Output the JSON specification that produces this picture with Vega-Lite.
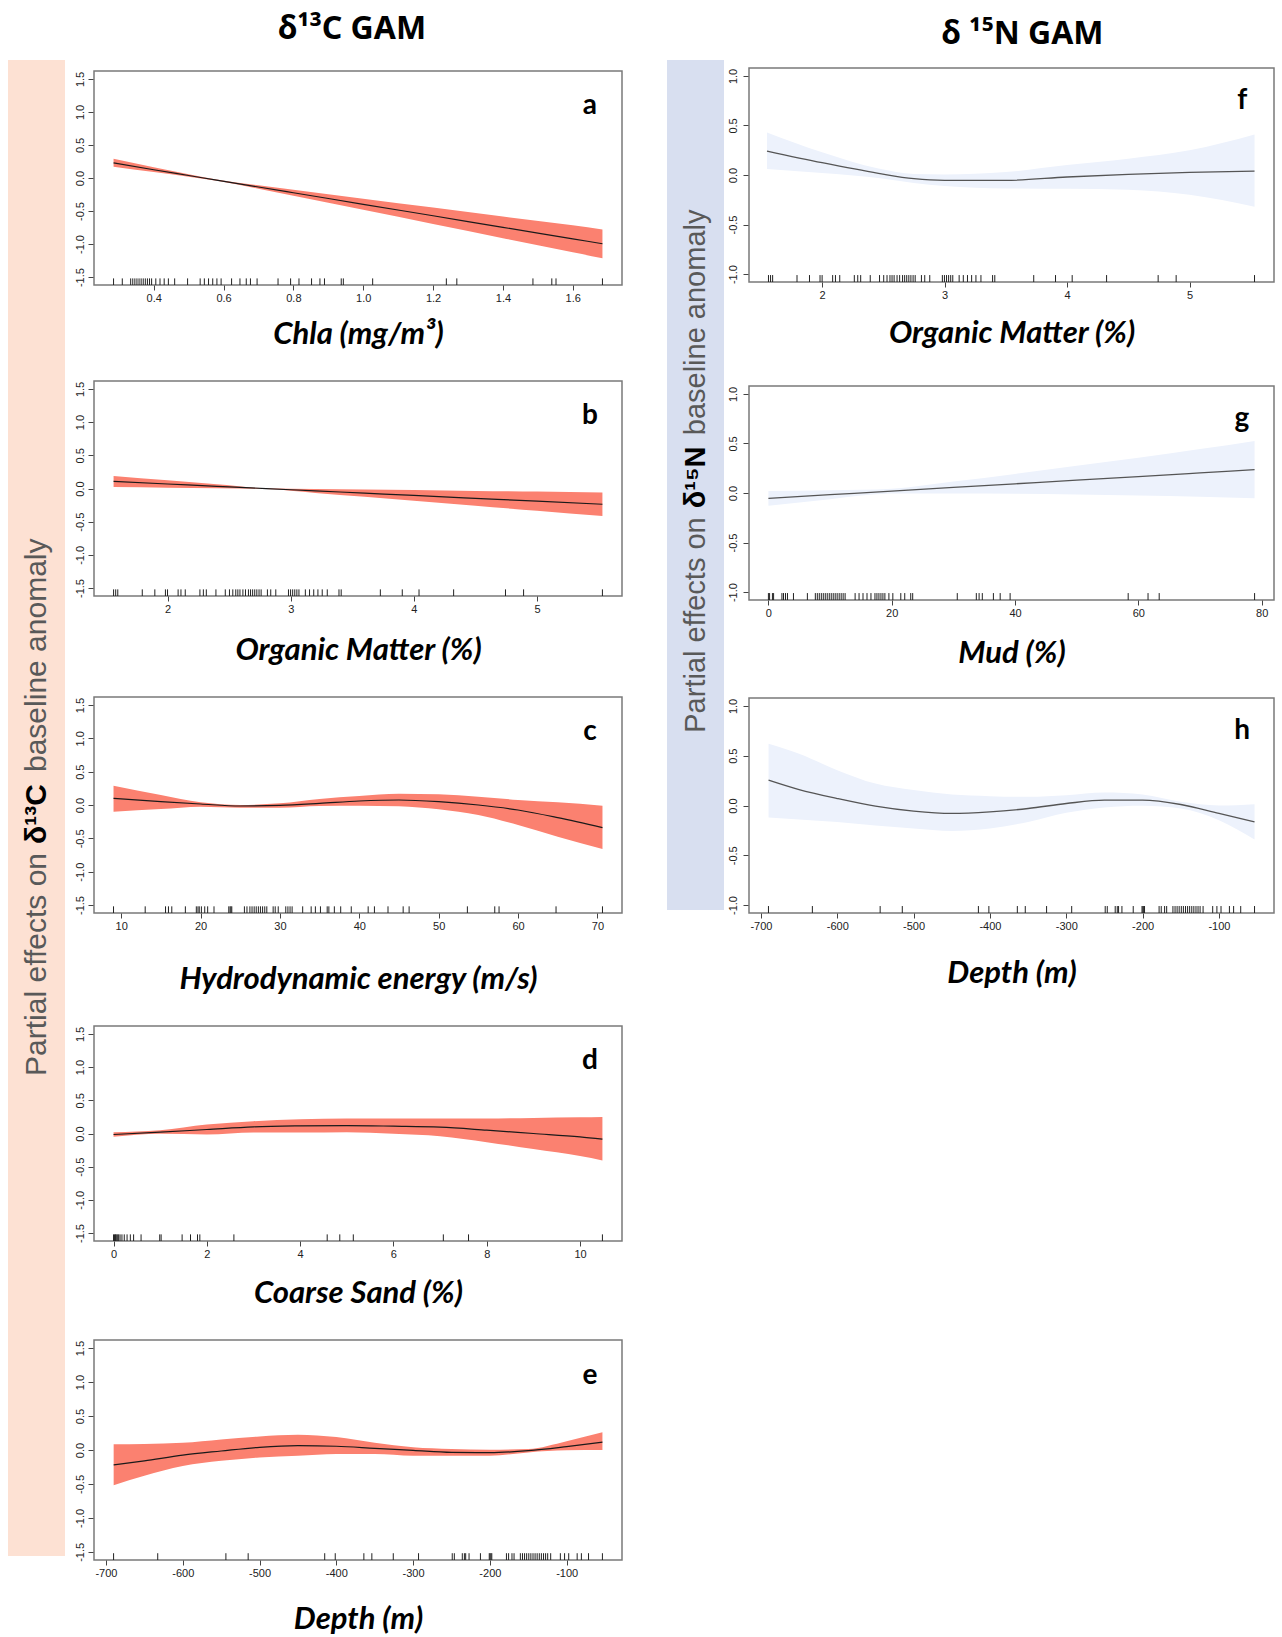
{
"$schema": "https://vega.github.io/schema/vega-lite/v6.json",
"padding": {"left": 8, "top": 12, "right": 0, "bottom": 0},
"datasets": {
"a_fit": [{"x":0.285,"fit":0.23,"lo":0.17,"hi":0.29},{"x":0.4,"fit":0.125,"lo":0.089,"hi":0.161},{"x":0.5,"fit":0.038,"lo":0.02,"hi":0.056},{"x":0.58,"fit":-0.032,"lo":-0.042,"hi":-0.022},{"x":0.7,"fit":-0.136,"lo":-0.162,"hi":-0.11},{"x":0.8,"fit":-0.223,"lo":-0.267,"hi":-0.179},{"x":1.0,"fit":-0.398,"lo":-0.482,"hi":-0.314},{"x":1.2,"fit":-0.572,"lo":-0.696,"hi":-0.448},{"x":1.4,"fit":-0.747,"lo":-0.911,"hi":-0.583},{"x":1.6,"fit":-0.921,"lo":-1.125,"hi":-0.717},{"x":1.685,"fit":-0.995,"lo":-1.215,"hi":-0.78}],
"a_rug": [{"x":0.285},{"x":0.31},{"x":0.334},{"x":0.34},{"x":0.346},{"x":0.352},{"x":0.358},{"x":0.364},{"x":0.37},{"x":0.376},{"x":0.382},{"x":0.388},{"x":0.394},{"x":0.406},{"x":0.418},{"x":0.43},{"x":0.442},{"x":0.46},{"x":0.497},{"x":0.533},{"x":0.545},{"x":0.557},{"x":0.569},{"x":0.581},{"x":0.593},{"x":0.623},{"x":0.647},{"x":0.665},{"x":0.677},{"x":0.696},{"x":0.756},{"x":0.792},{"x":0.816},{"x":0.852},{"x":0.876},{"x":0.889},{"x":0.937},{"x":0.943},{"x":1.027},{"x":1.238},{"x":1.268},{"x":1.486},{"x":1.54},{"x":1.552},{"x":1.685}],
"b_fit": [{"x":1.562,"fit":0.106,"lo":0.023,"hi":0.189},{"x":2.0,"fit":0.068,"lo":0.013,"hi":0.123},{"x":2.4,"fit":0.033,"lo":0.003,"hi":0.063},{"x":2.8,"fit":-0.001,"lo":-0.006,"hi":0.004},{"x":3.2,"fit":-0.036,"lo":-0.066,"hi":-0.006},{"x":3.6,"fit":-0.07,"lo":-0.125,"hi":-0.015},{"x":4.0,"fit":-0.105,"lo":-0.186,"hi":-0.024},{"x":4.5,"fit":-0.148,"lo":-0.26,"hi":-0.036},{"x":5.0,"fit":-0.191,"lo":-0.335,"hi":-0.047},{"x":5.531,"fit":-0.237,"lo":-0.414,"hi":-0.06}],
"om_rug": [{"x":1.562},{"x":1.579},{"x":1.596},{"x":1.795},{"x":1.897},{"x":1.983},{"x":2.0},{"x":2.086},{"x":2.109},{"x":2.144},{"x":2.263},{"x":2.291},{"x":2.315},{"x":2.393},{"x":2.469},{"x":2.503},{"x":2.53},{"x":2.554},{"x":2.571},{"x":2.588},{"x":2.612},{"x":2.633},{"x":2.657},{"x":2.674},{"x":2.691},{"x":2.708},{"x":2.725},{"x":2.743},{"x":2.76},{"x":2.811},{"x":2.838},{"x":2.879},{"x":2.982},{"x":2.999},{"x":3.016},{"x":3.033},{"x":3.05},{"x":3.067},{"x":3.119},{"x":3.153},{"x":3.187},{"x":3.221},{"x":3.256},{"x":3.297},{"x":3.392},{"x":3.41},{"x":3.728},{"x":3.906},{"x":4.042},{"x":4.323},{"x":4.744},{"x":4.891},{"x":5.531}],
"c_fit": [{"x":9.04,"fit":0.1,"lo":-0.1,"hi":0.29},{"x":15,"fit":0.05,"lo":-0.06,"hi":0.15},{"x":20,"fit":0.015,"lo":-0.025,"hi":0.04},{"x":25,"fit":-0.015,"lo":-0.04,"hi":0.0},{"x":30,"fit":-0.005,"lo":-0.04,"hi":0.025},{"x":35,"fit":0.025,"lo":-0.015,"hi":0.09},{"x":40,"fit":0.06,"lo":-0.01,"hi":0.135},{"x":45,"fit":0.075,"lo":-0.02,"hi":0.17},{"x":50,"fit":0.05,"lo":-0.065,"hi":0.16},{"x":55,"fit":0.0,"lo":-0.15,"hi":0.125},{"x":60,"fit":-0.075,"lo":-0.3,"hi":0.075},{"x":65,"fit":-0.19,"lo":-0.475,"hi":0.04},{"x":70.64,"fit":-0.34,"lo":-0.66,"hi":-0.01}],
"c_rug": [{"x":9.04},{"x":13.03},{"x":15.59},{"x":15.96},{"x":16.38},{"x":18.09},{"x":19.47},{"x":19.68},{"x":19.84},{"x":20.11},{"x":20.53},{"x":20.9},{"x":21.7},{"x":23.56},{"x":23.72},{"x":23.83},{"x":23.94},{"x":25.53},{"x":25.85},{"x":26.22},{"x":26.49},{"x":26.76},{"x":27.02},{"x":27.29},{"x":27.55},{"x":27.82},{"x":28.09},{"x":28.35},{"x":29.15},{"x":29.41},{"x":29.79},{"x":30.74},{"x":31.01},{"x":31.28},{"x":31.54},{"x":32.87},{"x":33.94},{"x":34.47},{"x":35.11},{"x":35.96},{"x":36.17},{"x":36.86},{"x":37.66},{"x":38.99},{"x":41.12},{"x":41.91},{"x":43.62},{"x":45.53},{"x":46.28},{"x":53.62},{"x":57.07},{"x":57.61},{"x":64.79},{"x":70.64}],
"d_fit": [{"x":0,"fit":-0.015,"lo":-0.05,"hi":0.02},{"x":1,"fit":0.02,"lo":-0.005,"hi":0.05},{"x":2,"fit":0.06,"lo":-0.015,"hi":0.135},{"x":3,"fit":0.1,"lo":0.015,"hi":0.185},{"x":4,"fit":0.115,"lo":0.015,"hi":0.215},{"x":5,"fit":0.12,"lo":0.02,"hi":0.225},{"x":6,"fit":0.11,"lo":-0.005,"hi":0.225},{"x":7,"fit":0.095,"lo":-0.04,"hi":0.225},{"x":8,"fit":0.05,"lo":-0.13,"hi":0.225},{"x":9,"fit":0.0,"lo":-0.235,"hi":0.235},{"x":10,"fit":-0.05,"lo":-0.34,"hi":0.245},{"x":10.48,"fit":-0.085,"lo":-0.405,"hi":0.25}],
"d_rug": [{"x":0},{"x":0.02},{"x":0.04},{"x":0.05},{"x":0.07},{"x":0.09},{"x":0.11},{"x":0.14},{"x":0.18},{"x":0.23},{"x":0.29},{"x":0.36},{"x":0.43},{"x":0.59},{"x":0.99},{"x":1.02},{"x":1.47},{"x":1.65},{"x":1.8},{"x":1.85},{"x":2.58},{"x":4.58},{"x":4.85},{"x":5.14},{"x":7.07},{"x":7.61},{"x":10.48}],
"e_fit": [{"x":-690,"fit":-0.22,"lo":-0.52,"hi":0.085},{"x":-650,"fit":-0.16,"lo":-0.38,"hi":0.09},{"x":-600,"fit":-0.075,"lo":-0.235,"hi":0.105},{"x":-550,"fit":-0.015,"lo":-0.16,"hi":0.155},{"x":-500,"fit":0.04,"lo":-0.11,"hi":0.2},{"x":-450,"fit":0.065,"lo":-0.085,"hi":0.225},{"x":-400,"fit":0.055,"lo":-0.06,"hi":0.19},{"x":-350,"fit":0.025,"lo":-0.06,"hi":0.105},{"x":-300,"fit":-0.005,"lo":-0.085,"hi":0.04},{"x":-250,"fit":-0.035,"lo":-0.085,"hi":0.015},{"x":-200,"fit":-0.04,"lo":-0.085,"hi":0.005},{"x":-150,"fit":-0.01,"lo":-0.035,"hi":0.015},{"x":-100,"fit":0.05,"lo":-0.005,"hi":0.13},{"x":-53.4,"fit":0.115,"lo":0.0,"hi":0.26}],
"depth_rug": [{"x":-690.1},{"x":-632.6},{"x":-543.8},{"x":-514.8},{"x":-415.1},{"x":-401.4},{"x":-364.1},{"x":-353.7},{"x":-325.8},{"x":-292.9},{"x":-249.0},{"x":-246.3},{"x":-235.9},{"x":-233.2},{"x":-231.5},{"x":-227.1},{"x":-212.3},{"x":-200.8},{"x":-199.7},{"x":-198.6},{"x":-197.5},{"x":-178.4},{"x":-175.6},{"x":-171.2},{"x":-168.5},{"x":-160.3},{"x":-157.5},{"x":-154.8},{"x":-152.1},{"x":-149.3},{"x":-146.6},{"x":-143.8},{"x":-141.1},{"x":-138.4},{"x":-135.6},{"x":-132.9},{"x":-130.1},{"x":-127.4},{"x":-124.7},{"x":-120.8},{"x":-108.2},{"x":-102.7},{"x":-97.3},{"x":-86.3},{"x":-80.8},{"x":-71.5},{"x":-53.4}],
"f_fit": [{"x":1.55,"fit":0.242,"lo":0.06,"hi":0.43},{"x":2.0,"fit":0.124,"lo":0.02,"hi":0.23},{"x":2.46,"fit":0.017,"lo":-0.03,"hi":0.065},{"x":2.75,"fit":-0.037,"lo":-0.08,"hi":0.01},{"x":3.0,"fit":-0.054,"lo":-0.11,"hi":0.005},{"x":3.5,"fit":-0.054,"lo":-0.135,"hi":0.03},{"x":4.0,"fit":-0.02,"lo":-0.14,"hi":0.1},{"x":4.5,"fit":0.007,"lo":-0.15,"hi":0.165},{"x":5.0,"fit":0.027,"lo":-0.2,"hi":0.25},{"x":5.531,"fit":0.04,"lo":-0.32,"hi":0.41}],
"g_fit": [{"x":0,"fit":-0.054,"lo":-0.129,"hi":0.021},{"x":10,"fit":-0.017,"lo":-0.062,"hi":0.028},{"x":20,"fit":0.019,"lo":-0.006,"hi":0.044},{"x":30,"fit":0.056,"lo":-0.004,"hi":0.116},{"x":40,"fit":0.093,"lo":-0.007,"hi":0.193},{"x":50,"fit":0.13,"lo":-0.015,"hi":0.275},{"x":60,"fit":0.166,"lo":-0.024,"hi":0.356},{"x":70,"fit":0.203,"lo":-0.037,"hi":0.443},{"x":78.85,"fit":0.236,"lo":-0.054,"hi":0.526}],
"g_rug": [{"x":0},{"x":0.19},{"x":0.65},{"x":0.84},{"x":2.19},{"x":2.45},{"x":2.77},{"x":3.09},{"x":4.06},{"x":6.32},{"x":7.61},{"x":7.93},{"x":8.25},{"x":8.58},{"x":8.9},{"x":9.22},{"x":9.54},{"x":9.87},{"x":10.19},{"x":10.51},{"x":10.83},{"x":11.15},{"x":11.48},{"x":11.8},{"x":12.12},{"x":12.44},{"x":14.06},{"x":14.7},{"x":15.34},{"x":15.99},{"x":16.63},{"x":17.28},{"x":17.6},{"x":17.92},{"x":18.25},{"x":18.57},{"x":18.89},{"x":19.54},{"x":20.18},{"x":21.47},{"x":22.11},{"x":23.08},{"x":23.4},{"x":30.63},{"x":33.72},{"x":34.17},{"x":34.69},{"x":36.49},{"x":37.59},{"x":39.2},{"x":58.35},{"x":61.57},{"x":63.38},{"x":78.85}],
"h_fit": [{"x":-690,"fit":0.255,"lo":-0.12,"hi":0.62},{"x":-650,"fit":0.16,"lo":-0.14,"hi":0.52},{"x":-600,"fit":0.07,"lo":-0.165,"hi":0.355},{"x":-550,"fit":-0.007,"lo":-0.2,"hi":0.22},{"x":-500,"fit":-0.057,"lo":-0.23,"hi":0.155},{"x":-450,"fit":-0.08,"lo":-0.255,"hi":0.11},{"x":-400,"fit":-0.064,"lo":-0.23,"hi":0.094},{"x":-350,"fit":-0.03,"lo":-0.165,"hi":0.087},{"x":-300,"fit":0.02,"lo":-0.074,"hi":0.104},{"x":-250,"fit":0.054,"lo":-0.02,"hi":0.13},{"x":-200,"fit":0.054,"lo":-0.003,"hi":0.11},{"x":-150,"fit":0.01,"lo":-0.03,"hi":0.037},{"x":-100,"fit":-0.08,"lo":-0.148,"hi":0.0},{"x":-53.4,"fit":-0.165,"lo":-0.342,"hi":0.013}]
},
"spacing": 44,
"hconcat": [
{"spacing": 8, "hconcat": [
 {"width": 57, "height": 1496, "view": {"fill": "#FDE1D3", "stroke": null},
  "data": {"values": [{"p1": "Partial effects on", "p2": "δ¹³C", "p3": "baseline anomaly"}]},
  "encoding": {"x": {"datum": 0.5, "type": "quantitative", "scale": {"domain": [0, 1]}, "axis": null}, "y": {"datum": 0.5, "type": "quantitative", "scale": {"domain": [0, 1]}, "axis": null}},
  "layer": [
   {"mark": {"type": "text", "angle": 270, "font": "Liberation Sans", "fontSize": 30, "color": "#595959", "align": "right", "baseline": "middle", "dx": -45}, "encoding": {"text": {"field": "p1"}}},
   {"mark": {"type": "text", "angle": 270, "font": "Liberation Sans", "fontSize": 30, "fontWeight": "bold", "color": "#000", "align": "left", "baseline": "middle", "dx": -36}, "encoding": {"text": {"field": "p2"}}},
   {"mark": {"type": "text", "angle": 270, "font": "Liberation Sans", "fontSize": 30, "color": "#595959", "align": "left", "baseline": "middle", "dx": 36}, "encoding": {"text": {"field": "p3"}}}
  ]},
 {"spacing": 30, "title": {"text": "δ¹³C GAM", "font": "Noto Sans", "fontSize": 32, "fontWeight": "bold", "color": "#000", "offset": 9, "anchor": "middle", "dx": 4},
  "vconcat": [
  {"spacing": 4, "vconcat": [
  {"width": 528, "height": 1, "view": {"stroke": null}, "data": {"values": [{"t": ""}]}, "mark": {"type": "text"}, "encoding": {"text": {"field": "t"}}},
  {"width": 528, "height": 214, "layer": [
   {"data": {"name": "a_fit"}, "mark": {"type": "area", "color": "#FB8170", "interpolate": "monotone"},
    "encoding": {"x": {"field": "x", "type": "quantitative", "scale": {"domain": [0.229, 1.741], "nice": false, "zero": false}, "axis": {"values": [0.4,0.6,0.8,1.0,1.2,1.4,1.6], "tickCount": 20, "format": ".1f", "title": "Chla (mg/m³)", "titlePadding": 16}},
     "y": {"field": "lo", "type": "quantitative", "scale": {"domain": [-1.62, 1.62], "nice": false, "zero": false}, "axis": {"values": [-1.5,-1,-0.5,0,0.5,1,1.5], "tickCount": 10, "format": ".1f", "title": null, "labelExpr": "replace(datum.label, '−', '-')"}},
     "y2": {"field": "hi"}}},
   {"data": {"name": "a_fit"}, "mark": {"type": "line", "color": "#1a1a1a", "strokeWidth": 1.2, "interpolate": "monotone"}, "encoding": {"x": {"field": "x", "type": "quantitative"}, "y": {"field": "fit", "type": "quantitative"}}},
   {"data": {"name": "a_rug"}, "mark": {"type": "rule", "color": "#222", "strokeWidth": 1}, "encoding": {"x": {"field": "x", "type": "quantitative"}, "y": {"datum": -1.62}, "y2": {"datum": -1.52}}},
   {"data": {"values": [{"t": "a"}]}, "mark": {"type": "text", "font": "Lato", "fontWeight": "bold", "fontSize": 28, "align": "center", "baseline": "middle", "color": "#000"}, "encoding": {"text": {"field": "t"}, "x": {"datum": 1.649}, "y": {"datum": 1.09}}}
  ]}
  ]},
  {"width": 528, "height": 215, "layer": [
   {"data": {"name": "b_fit"}, "mark": {"type": "area", "color": "#FB8170", "interpolate": "monotone"},
    "encoding": {"x": {"field": "x", "type": "quantitative", "scale": {"domain": [1.403, 5.69], "nice": false, "zero": false}, "axis": {"values": [2,3,4,5], "tickCount": 20, "format": "d", "title": "Organic Matter (%)", "titlePadding": 21}},
     "y": {"field": "lo", "type": "quantitative", "scale": {"domain": [-1.62, 1.62], "nice": false, "zero": false}, "axis": {"values": [-1.5,-1,-0.5,0,0.5,1,1.5], "tickCount": 10, "format": ".1f", "title": null, "labelExpr": "replace(datum.label, '−', '-')"}},
     "y2": {"field": "hi"}}},
   {"data": {"name": "b_fit"}, "mark": {"type": "line", "color": "#1a1a1a", "strokeWidth": 1.2, "interpolate": "monotone"}, "encoding": {"x": {"field": "x", "type": "quantitative"}, "y": {"field": "fit", "type": "quantitative"}}},
   {"data": {"name": "om_rug"}, "mark": {"type": "rule", "color": "#222", "strokeWidth": 1}, "encoding": {"x": {"field": "x", "type": "quantitative"}, "y": {"datum": -1.62}, "y2": {"datum": -1.52}}},
   {"data": {"values": [{"t": "b"}]}, "mark": {"type": "text", "font": "Lato", "fontWeight": "bold", "fontSize": 28, "align": "center", "baseline": "middle", "color": "#000"}, "encoding": {"text": {"field": "t"}, "x": {"datum": 5.43}, "y": {"datum": 1.09}}}
  ]},
  {"width": 528, "height": 216, "layer": [
   {"data": {"name": "c_fit"}, "mark": {"type": "area", "color": "#FB8170", "interpolate": "monotone"},
    "encoding": {"x": {"field": "x", "type": "quantitative", "scale": {"domain": [6.58, 73.1], "nice": false, "zero": false}, "axis": {"values": [10,20,30,40,50,60,70], "tickCount": 20, "format": "d", "title": "Hydrodynamic energy (m/s)", "titlePadding": 33}},
     "y": {"field": "lo", "type": "quantitative", "scale": {"domain": [-1.62, 1.62], "nice": false, "zero": false}, "axis": {"values": [-1.5,-1,-0.5,0,0.5,1,1.5], "tickCount": 10, "format": ".1f", "title": null, "labelExpr": "replace(datum.label, '−', '-')"}},
     "y2": {"field": "hi"}}},
   {"data": {"name": "c_fit"}, "mark": {"type": "line", "color": "#1a1a1a", "strokeWidth": 1.2, "interpolate": "monotone"}, "encoding": {"x": {"field": "x", "type": "quantitative"}, "y": {"field": "fit", "type": "quantitative"}}},
   {"data": {"name": "c_rug"}, "mark": {"type": "rule", "color": "#222", "strokeWidth": 1}, "encoding": {"x": {"field": "x", "type": "quantitative"}, "y": {"datum": -1.62}, "y2": {"datum": -1.52}}},
   {"data": {"values": [{"t": "c"}]}, "mark": {"type": "text", "font": "Lato", "fontWeight": "bold", "fontSize": 28, "align": "center", "baseline": "middle", "color": "#000"}, "encoding": {"text": {"field": "t"}, "x": {"datum": 69.07}, "y": {"datum": 1.09}}}
  ]},
  {"width": 528, "height": 215, "layer": [
   {"data": {"name": "d_fit"}, "mark": {"type": "area", "color": "#FB8170", "interpolate": "monotone"},
    "encoding": {"x": {"field": "x", "type": "quantitative", "scale": {"domain": [-0.419, 10.9], "nice": false, "zero": false}, "axis": {"values": [0,2,4,6,8,10], "tickCount": 20, "format": "d", "title": "Coarse Sand (%)", "titlePadding": 19}},
     "y": {"field": "lo", "type": "quantitative", "scale": {"domain": [-1.62, 1.62], "nice": false, "zero": false}, "axis": {"values": [-1.5,-1,-0.5,0,0.5,1,1.5], "tickCount": 10, "format": ".1f", "title": null, "labelExpr": "replace(datum.label, '−', '-')"}},
     "y2": {"field": "hi"}}},
   {"data": {"name": "d_fit"}, "mark": {"type": "line", "color": "#1a1a1a", "strokeWidth": 1.2, "interpolate": "monotone"}, "encoding": {"x": {"field": "x", "type": "quantitative"}, "y": {"field": "fit", "type": "quantitative"}}},
   {"data": {"name": "d_rug"}, "mark": {"type": "rule", "color": "#222", "strokeWidth": 1}, "encoding": {"x": {"field": "x", "type": "quantitative"}, "y": {"datum": -1.62}, "y2": {"datum": -1.52}}},
   {"data": {"values": [{"t": "d"}]}, "mark": {"type": "text", "font": "Lato", "fontWeight": "bold", "fontSize": 28, "align": "center", "baseline": "middle", "color": "#000"}, "encoding": {"text": {"field": "t"}, "x": {"datum": 10.21}, "y": {"datum": 1.09}}}
  ]},
  {"width": 528, "height": 220, "layer": [
   {"data": {"name": "e_fit"}, "mark": {"type": "area", "color": "#FB8170", "interpolate": "monotone"},
    "encoding": {"x": {"field": "x", "type": "quantitative", "scale": {"domain": [-715.6, -27.9], "nice": false, "zero": false}, "axis": {"values": [-700,-600,-500,-400,-300,-200,-100], "tickCount": 20, "format": "d", "title": "Depth (m)", "titlePadding": 26, "labelExpr": "replace(datum.label, '−', '-')"}},
     "y": {"field": "lo", "type": "quantitative", "scale": {"domain": [-1.62, 1.62], "nice": false, "zero": false}, "axis": {"values": [-1.5,-1,-0.5,0,0.5,1,1.5], "tickCount": 10, "format": ".1f", "title": null, "labelExpr": "replace(datum.label, '−', '-')"}},
     "y2": {"field": "hi"}}},
   {"data": {"name": "e_fit"}, "mark": {"type": "line", "color": "#1a1a1a", "strokeWidth": 1.2, "interpolate": "monotone"}, "encoding": {"x": {"field": "x", "type": "quantitative"}, "y": {"field": "fit", "type": "quantitative"}}},
   {"data": {"name": "depth_rug"}, "mark": {"type": "rule", "color": "#222", "strokeWidth": 1}, "encoding": {"x": {"field": "x", "type": "quantitative"}, "y": {"datum": -1.62}, "y2": {"datum": -1.52}}},
   {"data": {"values": [{"t": "e"}]}, "mark": {"type": "text", "font": "Lato", "fontWeight": "bold", "fontSize": 28, "align": "center", "baseline": "middle", "color": "#000"}, "encoding": {"text": {"field": "t"}, "x": {"datum": -69.6}, "y": {"datum": 1.09}}}
  ]}
 ]}
]},
{"spacing": 2, "hconcat": [
 {"width": 57, "height": 850, "view": {"fill": "#D8DFF0", "stroke": null},
  "data": {"values": [{"p1": "Partial effects on", "p2": "δ¹⁵N", "p3": "baseline anomaly"}]},
  "encoding": {"x": {"datum": 0.5, "type": "quantitative", "scale": {"domain": [0, 1]}, "axis": null}, "y": {"datum": 0.515, "type": "quantitative", "scale": {"domain": [0, 1]}, "axis": null}},
  "layer": [
   {"mark": {"type": "text", "angle": 270, "font": "Liberation Sans", "fontSize": 29, "color": "#595959", "align": "right", "baseline": "middle", "dx": -45}, "encoding": {"text": {"field": "p1"}}},
   {"mark": {"type": "text", "angle": 270, "font": "Liberation Sans", "fontSize": 29, "fontWeight": "bold", "color": "#000", "align": "left", "baseline": "middle", "dx": -36}, "encoding": {"text": {"field": "p2"}}},
   {"mark": {"type": "text", "angle": 270, "font": "Liberation Sans", "fontSize": 29, "color": "#595959", "align": "left", "baseline": "middle", "dx": 37}, "encoding": {"text": {"field": "p3"}}}
  ]},
 {"spacing": 28, "title": {"text": "δ ¹⁵N GAM", "font": "Noto Sans", "fontSize": 32, "fontWeight": "bold", "color": "#000", "offset": 4, "anchor": "middle", "dx": 22},
  "vconcat": [
  {"spacing": 36, "vconcat": [
  {"spacing": 1, "vconcat": [
  {"width": 525, "height": 1, "view": {"stroke": null}, "data": {"values": [{"t": ""}]}, "mark": {"type": "text"}, "encoding": {"text": {"field": "t"}}},
  {"width": 525, "height": 214, "layer": [
   {"data": {"name": "f_fit"}, "mark": {"type": "area", "color": "#EDF2FC", "interpolate": "monotone"},
    "encoding": {"x": {"field": "x", "type": "quantitative", "scale": {"domain": [1.403, 5.69], "nice": false, "zero": false}, "axis": {"values": [2,3,4,5], "tickCount": 20, "format": "d", "title": "Organic Matter (%)", "titlePadding": 18}},
     "y": {"field": "lo", "type": "quantitative", "scale": {"domain": [-1.08, 1.08], "nice": false, "zero": false}, "axis": {"values": [-1,-0.5,0,0.5,1], "tickCount": 10, "format": ".1f", "title": null, "labelPadding": 5, "labelExpr": "replace(datum.label, '−', '-')"}},
     "y2": {"field": "hi"}}},
   {"data": {"name": "f_fit"}, "mark": {"type": "line", "color": "#555", "strokeWidth": 1.3, "interpolate": "monotone"}, "encoding": {"x": {"field": "x", "type": "quantitative"}, "y": {"field": "fit", "type": "quantitative"}}},
   {"data": {"name": "om_rug"}, "mark": {"type": "rule", "color": "#222", "strokeWidth": 1}, "encoding": {"x": {"field": "x", "type": "quantitative"}, "y": {"datum": -1.08}, "y2": {"datum": -1.01}}},
   {"data": {"values": [{"t": "f"}]}, "mark": {"type": "text", "font": "Lato", "fontWeight": "bold", "fontSize": 28, "align": "center", "baseline": "middle", "color": "#000"}, "encoding": {"text": {"field": "t"}, "x": {"datum": 5.43}, "y": {"datum": 0.747}}}
  ]}
  ]},
  {"width": 525, "height": 214, "layer": [
   {"data": {"name": "g_fit"}, "mark": {"type": "area", "color": "#EDF2FC", "interpolate": "monotone"},
    "encoding": {"x": {"field": "x", "type": "quantitative", "scale": {"domain": [-3.15, 82.0], "nice": false, "zero": false}, "axis": {"values": [0,20,40,60,80], "tickCount": 20, "format": "d", "title": "Mud (%)", "titlePadding": 20}},
     "y": {"field": "lo", "type": "quantitative", "scale": {"domain": [-1.08, 1.08], "nice": false, "zero": false}, "axis": {"values": [-1,-0.5,0,0.5,1], "tickCount": 10, "format": ".1f", "title": null, "labelPadding": 5, "labelExpr": "replace(datum.label, '−', '-')"}},
     "y2": {"field": "hi"}}},
   {"data": {"name": "g_fit"}, "mark": {"type": "line", "color": "#555", "strokeWidth": 1.3, "interpolate": "monotone"}, "encoding": {"x": {"field": "x", "type": "quantitative"}, "y": {"field": "fit", "type": "quantitative"}}},
   {"data": {"name": "g_rug"}, "mark": {"type": "rule", "color": "#222", "strokeWidth": 1}, "encoding": {"x": {"field": "x", "type": "quantitative"}, "y": {"datum": -1.08}, "y2": {"datum": -1.01}}},
   {"data": {"values": [{"t": "g"}]}, "mark": {"type": "text", "font": "Lato", "fontWeight": "bold", "fontSize": 28, "align": "center", "baseline": "middle", "color": "#000"}, "encoding": {"text": {"field": "t"}, "x": {"datum": 76.8}, "y": {"datum": 0.747}}}
  ]}
  ]},
  {"width": 525, "height": 215, "layer": [
   {"data": {"name": "h_fit"}, "mark": {"type": "area", "color": "#EDF2FC", "interpolate": "monotone"},
    "encoding": {"x": {"field": "x", "type": "quantitative", "scale": {"domain": [-715.6, -27.9], "nice": false, "zero": false}, "axis": {"values": [-700,-600,-500,-400,-300,-200,-100], "tickCount": 20, "format": "d", "title": "Depth (m)", "titlePadding": 27, "labelExpr": "replace(datum.label, '−', '-')"}},
     "y": {"field": "lo", "type": "quantitative", "scale": {"domain": [-1.08, 1.08], "nice": false, "zero": false}, "axis": {"values": [-1,-0.5,0,0.5,1], "tickCount": 10, "format": ".1f", "title": null, "labelPadding": 5, "labelExpr": "replace(datum.label, '−', '-')"}},
     "y2": {"field": "hi"}}},
   {"data": {"name": "h_fit"}, "mark": {"type": "line", "color": "#555", "strokeWidth": 1.3, "interpolate": "monotone"}, "encoding": {"x": {"field": "x", "type": "quantitative"}, "y": {"field": "fit", "type": "quantitative"}}},
   {"data": {"name": "depth_rug"}, "mark": {"type": "rule", "color": "#222", "strokeWidth": 1}, "encoding": {"x": {"field": "x", "type": "quantitative"}, "y": {"datum": -1.08}, "y2": {"datum": -1.01}}},
   {"data": {"values": [{"t": "h"}]}, "mark": {"type": "text", "font": "Lato", "fontWeight": "bold", "fontSize": 28, "align": "center", "baseline": "middle", "color": "#000"}, "encoding": {"text": {"field": "t"}, "x": {"datum": -69.6}, "y": {"datum": 0.747}}}
  ]}
 ]}
]}
],
"config": {
 "font": "Liberation Sans",
 "background": "#ffffff",
 "view": {"stroke": "#7a7a7a", "strokeWidth": 1.5},
 "axis": {"grid": false, "domain": false, "labelFont": "Liberation Sans", "labelFontSize": 11, "labelColor": "#222", "tickColor": "#444", "tickSize": 5, "tickWidth": 1, "labelFlush": false, "labelOverlap": false},
 "axisX": {"labelPadding": 2, "titleFont": "Lato", "titleFontSize": 31, "titleFontWeight": "bold", "titleFontStyle": "italic", "titleColor": "#000"},
 "axisY": {"labelAngle": 270, "labelAlign": "center", "labelBaseline": "bottom", "labelPadding": 3, "offset": 1}
}
}
